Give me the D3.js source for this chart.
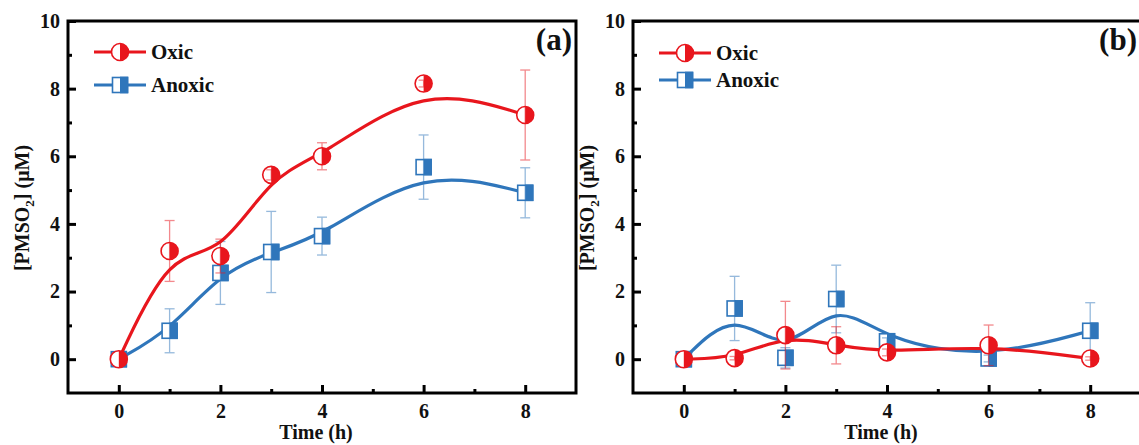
<!DOCTYPE html>
<html>
<head>
<meta charset="utf-8">
<script src="https://cdn.jsdelivr.net/npm/d3@7/dist/d3.min.js"></script>
<style>
  body { margin: 0; background: #fff; }
  svg text { font-family: "Liberation Serif", "Times New Roman", serif; font-weight: bold; fill: #111; }
</style>
</head>
<body>
<div id="chart"></div>
<script>
// sampling times (h)
var timeH = [0, 1, 2, 3, 4, 6, 8];

// panel (a)
var oxicA      = [0, 3.20, 3.05, 5.45, 6.00, 8.15, 7.22];
var oxicAErr   = [0, 0.90, 0.50, 0.15, 0.40, 0.10, 1.33];
var anoxicA    = [0, 0.84, 2.55, 3.17, 3.64, 5.68, 4.92];
var anoxicAErr = [0, 0.65, 0.93, 1.20, 0.56, 0.95, 0.74];

// panel (b)
var oxicB      = [0, 0.03, 0.71, 0.41, 0.20, 0.41, 0.02];
var oxicBErr   = [0, 0.05, 1.00, 0.55, 0.10, 0.60, 0.05];
var anoxicB    = [0, 1.50, 0.04, 1.78, 0.53, 0.02, 0.84];
var anoxicBErr = [0, 0.95, 0.30, 1.00, 0.10, 0.10, 0.83];

var xTicks = [0, 2, 4, 6, 8];
var yTicks = [0, 2, 4, 6, 8, 10];
var seriesNames = ["Oxic", "Anoxic"];

var RED = "#e8161d", BLUE = "#2f76bb";

var W = 1139, H = 445;
var svg = d3.select("#chart").append("svg").attr("width", W).attr("height", H);

function drawPanel(left, tag, oxic, oxicErr, anoxic, anoxicErr, legY) {
    var top = 21, bottom = 393, width = 508;
    var x = d3.scaleLinear().domain([-1, 9]).range([left, left + width]);
    var y = d3.scaleLinear().domain([-1, 10]).range([bottom, top]);

    var g = svg.append("g");

    // minor ticks
    g.append("g").attr("transform", "translate(0," + bottom + ")")
        .call(d3.axisBottom(x).tickValues([1, 3, 5, 7]).tickSize(-4).tickFormat(""))
        .call(function (s) { s.select(".domain").remove(); s.selectAll("line").attr("stroke", "#000").attr("stroke-width", 3); });
    g.append("g").attr("transform", "translate(" + left + ",0)")
        .call(d3.axisLeft(y).tickValues([1, 3, 5, 7, 9]).tickSize(-4).tickFormat(""))
        .call(function (s) { s.select(".domain").remove(); s.selectAll("line").attr("stroke", "#000").attr("stroke-width", 3); });

    // major ticks
    var xa = g.append("g").attr("transform", "translate(0," + bottom + ")")
        .call(d3.axisBottom(x).tickValues(xTicks).tickSize(-8));
    xa.select(".domain").remove();
    xa.selectAll("line").attr("stroke", "#000").attr("stroke-width", 3);
    xa.selectAll("text").attr("font-size", 20).attr("y", 11).attr("dy", "0.71em");

    var ya = g.append("g").attr("transform", "translate(" + left + ",0)")
        .call(d3.axisLeft(y).tickValues(yTicks).tickSize(-8));
    ya.select(".domain").remove();
    ya.selectAll("line").attr("stroke", "#000").attr("stroke-width", 3);
    ya.selectAll("text").attr("font-size", 20).attr("x", -8);

    // frame
    g.append("rect").attr("x", left).attr("y", top)
        .attr("width", width).attr("height", bottom - top)
        .attr("fill", "none").attr("stroke", "#000").attr("stroke-width", 3);

    // axis titles
    g.append("text").attr("x", left + width / 2 - 6).attr("y", 439)
        .attr("text-anchor", "middle").attr("font-size", 20).text("Time (h)");
    var yl = g.append("text")
        .attr("transform", "translate(" + (left - 39) + "," + ((top + bottom) / 2 + 1) + ") rotate(-90)")
        .attr("text-anchor", "middle").attr("font-size", 20);
    yl.append("tspan").text("[PMSO");
    yl.append("tspan").attr("font-size", 13).attr("dy", 5).text("2");
    yl.append("tspan").attr("dy", -5).text("] (\u03bcM)");

    g.append("text").attr("x", left + width - 4).attr("y", 50)
        .attr("text-anchor", "end").attr("font-size", 31).text(tag);

    var line = d3.line().curve(d3.curveBasis)
        .x(function (d, i) { return x(timeH[i]); })
        .y(function (d) { return y(d); });

    function circleMark(sel, cx, cy, color) {
        var r = 8.5;
        sel.append("circle").attr("cx", cx).attr("cy", cy).attr("r", r)
            .attr("fill", "#fff").attr("stroke", color).attr("stroke-width", 1.6);
        sel.append("path")
            .attr("d", "M" + cx + "," + (cy - r) + "A" + r + "," + r + " 0 0 1 " + cx + "," + (cy + r) + "Z")
            .attr("fill", color);
    }
    function squareMark(sel, cx, cy, color) {
        var s = 15;
        sel.append("rect").attr("x", cx - s / 2).attr("y", cy - s / 2).attr("width", s).attr("height", s)
            .attr("fill", "#fff").attr("stroke", color).attr("stroke-width", 1.6);
        sel.append("rect").attr("x", cx).attr("y", cy - s / 2 - 0.8).attr("width", s / 2 + 0.8).attr("height", s + 1.6)
            .attr("fill", color);
    }

    function series(vals, errs, color, mark) {
        var sg = g.append("g");
        sg.append("path").attr("d", line(vals)).attr("fill", "none")
            .attr("stroke", color).attr("stroke-width", 3.2);
        vals.forEach(function (v, i) {
            mark(sg, x(timeH[i]), y(v), color);
        });
        vals.forEach(function (v, i) {
            if (!errs[i]) return;
            var cx = x(timeH[i]), y1 = y(v + errs[i]), y2 = y(v - errs[i]);
            var eg = sg.append("g").attr("stroke", color).attr("stroke-width", 1.3).attr("opacity", 0.5);
            eg.append("line").attr("x1", cx).attr("x2", cx).attr("y1", y1).attr("y2", y2);
            eg.append("line").attr("x1", cx - 5).attr("x2", cx + 5).attr("y1", y1).attr("y2", y1);
            eg.append("line").attr("x1", cx - 5).attr("x2", cx + 5).attr("y1", y2).attr("y2", y2);
        });
    }
    series(anoxic, anoxicErr, BLUE, squareMark);
    series(oxic, oxicErr, RED, circleMark);

    // legend
    var lx = left + 26;
    [[RED, circleMark], [BLUE, squareMark]].forEach(function (d, i) {
        var ly = legY[i];
        g.append("line").attr("x1", lx).attr("x2", lx + 52).attr("y1", ly).attr("y2", ly)
            .attr("stroke", d[0]).attr("stroke-width", 3.2);
        d[1](g, lx + 26, ly, d[0]);
        g.append("text").attr("x", lx + 57).attr("y", ly).attr("dy", "0.35em")
            .attr("font-size", 21).text(seriesNames[i]);
    });
}

drawPanel(68, "(a)", oxicA, oxicAErr, anoxicA, anoxicAErr, [52, 85]);
drawPanel(633, "(b)", oxicB, oxicBErr, anoxicB, anoxicBErr, [53, 80]);
</script>
</body>
</html>
